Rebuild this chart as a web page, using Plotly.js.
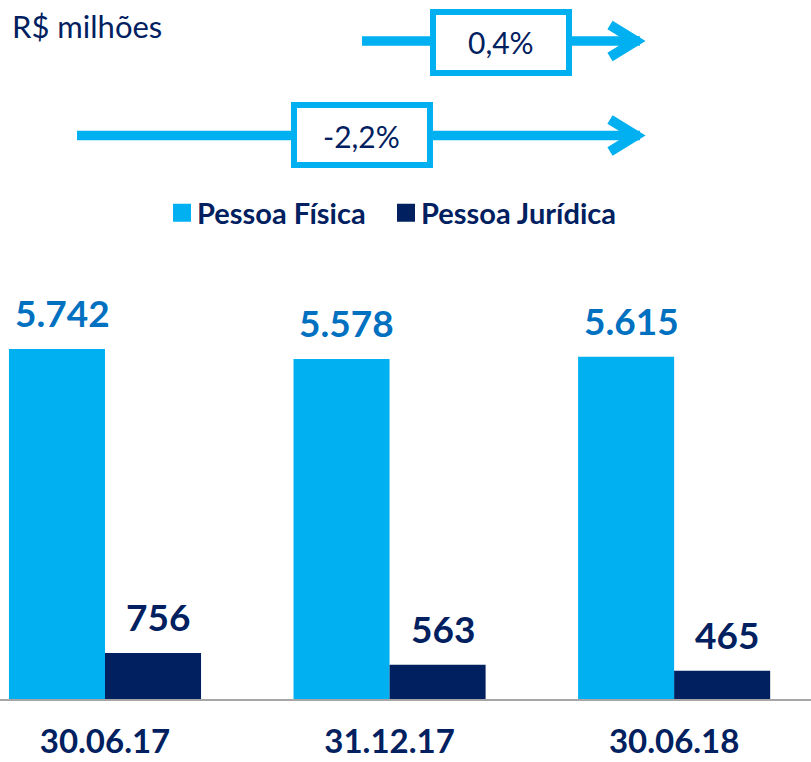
<!DOCTYPE html>
<html><head><meta charset="utf-8">
<script src="https://cdn.plot.ly/plotly-3.0.1.min.js"></script>
<style>html,body{margin:0;padding:0;background:#fff}#chart{width:811px;height:762px}</style>
</head><body><div id="chart"></div>
<script>
const categories = ['30.06.17', '31.12.17', '30.06.18'];
const pessoaFisica = [5742, 5578, 5615];
const pessoaJuridica = [756, 563, 465];
const seriesNames = ['Pessoa Física', 'Pessoa Jurídica'];
const growthLabels = ['0,4%', '-2,2%'];
const unitLabel = 'R$ milhões';

const W = 811, BASE = 699;
const LIGHT = '#00B0F0', NAVY = '#002060', VAL = '#0070C0';
const FONT = 'Lato, "Open Sans", sans-serif';
const px = x => x / W;
const py = y => (BASE - y) / BASE;
const fmt = v => String(v).replace(/\B(?=(\d{3})+(?!\d))/g, '.');

const traces = [
  {type: 'bar', name: seriesNames[0], x: categories, y: pessoaFisica, marker: {color: LIGHT}, hoverinfo: 'none', legend: 'legend'},
  {type: 'bar', name: seriesNames[1], x: categories, y: pessoaJuridica, marker: {color: NAVY}, hoverinfo: 'none', legend: 'legend2'}
];

const annotations = [];
categories.forEach((c, i) => {
  annotations.push({x: c, y: pessoaFisica[i], xref: 'x', yref: 'y', text: fmt(pessoaFisica[i]), showarrow: false,
    xanchor: 'center', yanchor: 'bottom', xshift: -43, yshift: 12, font: {family: FONT, size: 37, color: VAL, weight: 'bold'}});
  annotations.push({x: c, y: pessoaJuridica[i], xref: 'x', yref: 'y', text: fmt(pessoaJuridica[i]), showarrow: false,
    xanchor: 'center', yanchor: 'bottom', xshift: 53, yshift: 12, font: {family: FONT, size: 37, color: NAVY, weight: 'bold'}});
});
annotations.push({x: px(10), y: py(26), xref: 'paper', yref: 'paper', text: unitLabel, showarrow: false,
  xanchor: 'left', yanchor: 'middle', font: {family: FONT, size: 31, color: NAVY}});
annotations.push({x: px(501), y: py(42), xref: 'paper', yref: 'paper', text: growthLabels[0], showarrow: false,
  xanchor: 'center', yanchor: 'middle', font: {family: FONT, size: 30, color: NAVY}});
annotations.push({x: px(361), y: py(136), xref: 'paper', yref: 'paper', text: growthLabels[1], showarrow: false,
  xanchor: 'center', yanchor: 'middle', font: {family: FONT, size: 30, color: NAVY}});

function arrow(x0, y) {
  return [
    {type: 'line', xref: 'paper', yref: 'paper', x0: px(x0), x1: px(640), y0: py(y), y1: py(y), line: {color: LIGHT, width: 9.5}},
    {type: 'path', xref: 'paper', yref: 'paper',
      path: `M ${px(610)} ${py(y - 16)} L ${px(636)} ${py(y)} L ${px(610)} ${py(y + 16)}`,
      line: {color: LIGHT, width: 10}}
  ];
}
function box(x0, y0, x1, y1) {
  return {type: 'rect', xref: 'paper', yref: 'paper', x0: px(x0), x1: px(x1), y0: py(y0), y1: py(y1),
    line: {color: LIGHT, width: 6}, fillcolor: '#ffffff'};
}
const shapes = [
  ...arrow(362, 41), box(433, 12, 569, 73),
  ...arrow(77, 135.5), box(294, 105, 430, 165)
];

const legendBase = {orientation: 'h', xanchor: 'left', y: py(213), yanchor: 'middle',
  font: {family: FONT, size: 29, color: NAVY, weight: 'bold'}, bgcolor: 'rgba(0,0,0,0)', itemwidth: 30};

const layout = {
  width: 811, height: 762,
  margin: {l: 0, r: 0, t: 0, b: 63, pad: 0},
  paper_bgcolor: '#fff', plot_bgcolor: '#fff',
  barmode: 'group', bargap: 0.325, bargroupgap: 0,
  separators: ',.',
  showlegend: true,
  legend: Object.assign({}, legendBase, {x: px(157)}),
  legend2: Object.assign({}, legendBase, {x: px(381)}),
  xaxis: {type: 'category', range: [-0.369, 2.481], showline: true, linecolor: '#A6A6A6', linewidth: 1.5,
    showgrid: false, zeroline: false, ticks: '', fixedrange: true,
    tickfont: {family: FONT, size: 33, color: NAVY, weight: 'bold'}, ticklabelstandoff: 13},
  yaxis: {range: [0, 699 / 0.06095], visible: false, showgrid: false, zeroline: false, fixedrange: true},
  annotations: annotations,
  shapes: shapes
};
Plotly.newPlot('chart', traces, layout, {displayModeBar: false, staticPlot: true}).then(() => {
  document.querySelectorAll('#chart .legendpoints path').forEach(p => p.setAttribute('d', 'M14,9H-4V-9H14Z'));
});
</script></body></html>
